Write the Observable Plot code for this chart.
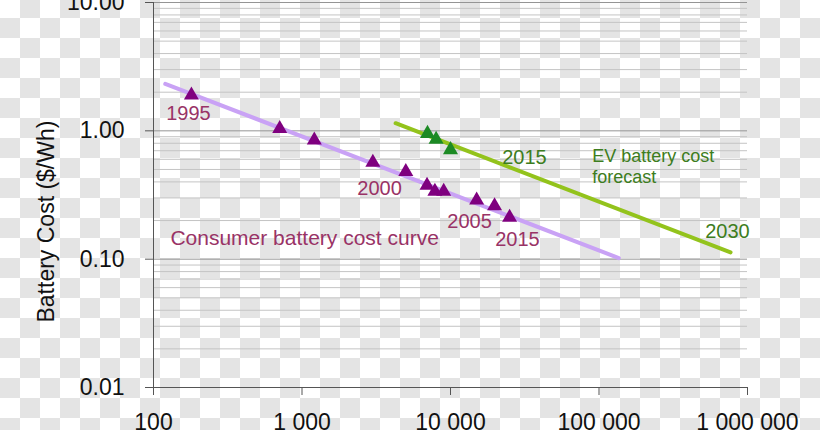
<!DOCTYPE html>
<html><head><meta charset="utf-8">
<script src="https://cdn.jsdelivr.net/npm/d3@7"></script>
<script src="https://cdn.jsdelivr.net/npm/@observablehq/plot@0.6"></script>
<style>
html,body{margin:0;padding:0;width:820px;height:430px;overflow:hidden;background:#fff;}
#chart svg{display:block;margin-top:-20px;}
</style></head><body><div id="chart"></div>
<script>
// Axis ticks
const xTicks = [100, 1000, 10000, 100000, 1000000];
const xTickLabels = ["100", "1 000", "10 000", "100 000", "1 000 000"];
const yTicks = [0.01, 0.1, 1, 10];
const yTickLabels = ["0.01", "0.10", "1.00", "10.00"];

// Consumer battery data (cumulative volume vs $/Wh)
const consumerVolume = [180, 708, 1210, 3000, 5000, 6950, 7850, 9000, 15000, 19800, 25000];
const consumerCost = [1.97, 1.08, 0.88, 0.59, 0.50, 0.39, 0.35, 0.35, 0.30, 0.27, 0.22];
// EV battery data
const evVolume = [7000, 8000, 10000];
const evCost = [0.99, 0.89, 0.74];
// Trend / forecast lines
const consumerCurveVolume = [120, 136000];
const consumerCurveCost = [2.32, 0.102];
const evForecastVolume = [4270, 769000];
const evForecastCost = [1.146, 0.113];

// Annotations
const consumerYearLabels = ["1995", "2000", "2005", "2015"];
const consumerYearVolume = [172, 3330, 13430, 28250];
const consumerYearCost = [1.36, 0.355, 0.198, 0.142];
const evYearLabels = ["2015", "2030"];
const evYearVolume = [31480, 732800];
const evYearCost = [0.614, 0.1626];
const evCaption = ["EV battery cost", "forecast"];
const evCaptionVolume = [89950, 89950];
const evCaptionCost = [0.630, 0.4325];
const consumerCaption = ["Consumer battery cost curve"];
const consumerCaptionVolume = [130];
const consumerCaptionCost = [0.146];
const yTitle = ["Battery Cost ($/Wh)"];
const yTitleVolume = [19.0];
const yTitleCost = [0.1964];

const purple = "#7f007f", purpleText = "#993366", lavender = "#c9a2f5";
const green = "#1c8a24", greenText = "#3d7d20", lime = "#93c31c";
const checkerGray = "#e4e4e4";

const tbl = (xs, ys, extra) => xs.map((x, i) => ({x, y: ys[i], t: extra ? extra[i] : null}));

const minorY = [];
for (const d of [0.01, 0.1, 1]) for (let k = 2; k <= 9; k++) minorY.push(+(d * k).toPrecision(3));
const majorY = [0.1, 1, 10];

const tri = {
  draw(ctx, size) {
    const s = Math.sqrt(size / Math.PI);
    const h = 2.33 * s, w = 1.34 * s;
    ctx.moveTo(0, -h / 2);
    ctx.lineTo(w, h / 2);
    ctx.lineTo(-w, h / 2);
    ctx.closePath();
  }
};

const plot = Plot.plot({
  width: 820,
  height: 460,
  marginLeft: 153,
  marginRight: 73,
  marginTop: 22,
  marginBottom: 53,
  style: {background: "white", overflow: "visible", fontFamily: "'Liberation Sans', Arial, sans-serif", color: "#111"},
  x: {type: "log", domain: [100, 1000000], axis: null},
  y: {type: "log", domain: [0.01, 10], axis: null},
  marks: [
    Plot.ruleY(minorY, {stroke: "#c4c4c4", strokeWidth: 1}),
    Plot.ruleY(majorY, {stroke: "#959595", strokeWidth: 1}),
    Plot.ruleX([100], {stroke: "#555", strokeWidth: 1}),
    Plot.ruleY([0.01], {stroke: "#555", strokeWidth: 1}),
    Plot.axisX(xTicks, {tickFormat: d => xTickLabels[xTicks.indexOf(d)], tickSize: 8, tickPadding: 18, fontSize: 23, stroke: "#555", fill: "#111", label: null}),
    Plot.axisY(yTicks, {tickFormat: d => yTickLabels[yTicks.indexOf(d)], tickSize: 8, tickPadding: 21, fontSize: 23, stroke: "#555", fill: "#111", label: null}),
    Plot.line(tbl(consumerCurveVolume, consumerCurveCost), {x: "x", y: "y", stroke: lavender, strokeWidth: 4}),
    Plot.line(tbl(evForecastVolume, evForecastCost), {x: "x", y: "y", stroke: lime, strokeWidth: 4}),
    Plot.dot(tbl(consumerVolume, consumerCost), {x: "x", y: "y", symbol: tri, r: 5.6, fill: purple, stroke: "none"}),
    Plot.dot(tbl(evVolume, evCost), {x: "x", y: "y", symbol: tri, r: 5.6, fill: green, stroke: "none"}),
    Plot.text(tbl(consumerYearVolume, consumerYearCost, consumerYearLabels), {x: "x", y: "y", text: "t", fill: purpleText, fontSize: 20}),
    Plot.text(tbl(consumerCaptionVolume, consumerCaptionCost, consumerCaption), {x: "x", y: "y", text: "t", fill: purpleText, fontSize: 21, textAnchor: "start"}),
    Plot.text(tbl(evYearVolume, evYearCost, evYearLabels), {x: "x", y: "y", text: "t", fill: greenText, fontSize: 20}),
    Plot.text(tbl(evCaptionVolume, evCaptionCost, evCaption), {x: "x", y: "y", text: "t", fill: greenText, fontSize: 18, textAnchor: "start"}),
    Plot.text(tbl(yTitleVolume, yTitleCost, yTitle), {x: "x", y: "y", text: "t", rotate: -90, fontSize: 23, fill: "#111"})
  ]
});

// Checkerboard backdrop (as in the reference image), drawn behind all marks
const NS = "http://www.w3.org/2000/svg";
const defs = document.createElementNS(NS, "defs");
const pat = document.createElementNS(NS, "pattern");
pat.setAttribute("id", "checker-bg");
pat.setAttribute("patternUnits", "userSpaceOnUse");
pat.setAttribute("width", "40");
pat.setAttribute("height", "40");
pat.setAttribute("y", "18");
for (const [x, y, c] of [[0, 0, "#ffffff"], [20, 20, "#ffffff"], [20, 0, checkerGray], [0, 20, checkerGray]]) {
  const r = document.createElementNS(NS, "rect");
  r.setAttribute("x", x); r.setAttribute("y", y);
  r.setAttribute("width", "20"); r.setAttribute("height", "20");
  r.setAttribute("fill", c);
  pat.appendChild(r);
}
defs.appendChild(pat);
const bgRect = document.createElementNS(NS, "rect");
bgRect.setAttribute("x", "0"); bgRect.setAttribute("y", "0");
bgRect.setAttribute("width", "820"); bgRect.setAttribute("height", "460");
bgRect.setAttribute("fill", "url(#checker-bg)");
plot.insertBefore(bgRect, plot.firstChild);
plot.insertBefore(defs, plot.firstChild);

document.getElementById("chart").appendChild(plot);
</script>
</body></html>
